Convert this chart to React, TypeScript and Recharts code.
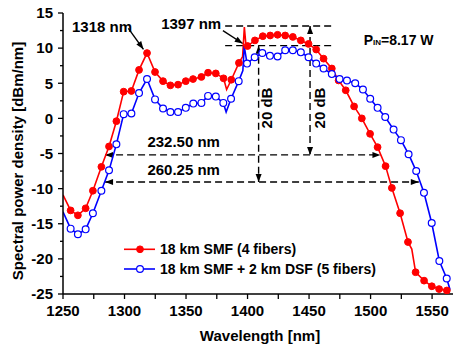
import { ComposedChart, Line, XAxis, YAxis, ReferenceLine, ReferenceDot } from 'recharts'

// 18 km SMF (4 fibers): measured points carrying a marker
const redMarkerNm = [
  1256.2, 1262.1, 1268.4, 1274.3, 1281.2, 1287.4, 1293.4, 1299.3, 1305.6, 1311.8,
  1318.3, 1324.8, 1331.3, 1337.3, 1343.5, 1349.8, 1355.7, 1362.5, 1367.9, 1374.2,
  1380.5, 1386.8, 1393.0, 1400.0, 1406.0, 1412.4, 1418.4, 1424.4, 1430.6, 1436.8,
  1443.3, 1449.6, 1455.8, 1461.8, 1468.5, 1474.0, 1479.8, 1486.6, 1492.9, 1499.6,
  1505.7, 1512.2, 1517.3, 1524.0, 1530.4, 1536.6, 1543.5, 1549.8, 1555.7, 1562.0,
]
const redMarkerDb = [
  -13.1, -13.8, -12.8, -10.3, -6.9, -4.0, -0.4, 3.8, 3.9, 6.9,
  9.3, 6.6, 5.3, 4.7, 4.8, 5.3, 5.6, 5.9, 6.5, 6.4,
  5.7, 5.5, 7.9, 10.3, 11.1, 11.7, 11.8, 11.9, 11.8, 11.6,
  11.1, 10.6, 9.8, 8.5, 7.1, 5.4, 4.0, 1.7, 0.0, -2.2,
  -4.1, -6.8, -9.9, -13.5, -17.6, -21.9, -23.1, -23.9, -24.3, -24.5,
]
// line-only points of the red trace (edges, dip and the 1397 nm spike)
const redExtraNm = [1250, 1383.0, 1396.0, 1397.4, 1398.6, 1533.5, 1564.5]
const redExtraDb = [-10.9, 4.1, 8.8, 13.0, 10.6, -18.6, -24.6]

// 18 km SMF + 2 km DSF (5 fibers)
const blueMarkerNm = [
  1256.2, 1262.1, 1268.4, 1274.3, 1281.2, 1287.4, 1293.4, 1299.3, 1305.6, 1311.8,
  1318.3, 1324.8, 1331.3, 1337.3, 1343.5, 1349.8, 1355.9, 1362.5, 1367.9, 1374.2,
  1380.3, 1386.6, 1392.8, 1399.6, 1405.8, 1412.0, 1418.2, 1424.4, 1430.6, 1436.8,
  1443.3, 1449.6, 1455.8, 1461.8, 1468.5, 1474.8, 1480.8, 1487.5, 1493.8, 1499.7,
  1505.7, 1511.9, 1518.7, 1524.7, 1530.9, 1537.1, 1543.4, 1549.7, 1555.9, 1561.9,
]
const blueMarkerDb = [
  -15.7, -16.5, -15.8, -13.5, -10.3, -7.4, -3.7, 0.6, 0.7, 3.6,
  5.6, 2.7, 1.4, 0.9, 0.9, 1.5, 2.1, 2.2, 3.2, 3.1,
  2.2, 2.8, 5.3, 7.8, 8.7, 9.3, 8.9, 8.8, 9.7, 9.7,
  9.4, 8.7, 7.8, 7.1, 6.3, 5.6, 5.4, 5.0, 4.1, 2.8,
  1.5, 0.2, -1.6, -3.1, -5.1, -7.5, -10.6, -14.9, -20.3, -22.8,
]
const blueExtraNm = [1250, 1382.6, 1396.2, 1397.3, 1564.6]
const blueExtraDb = [-13.3, 0.9, 6.8, 10.3, -24.4]

const xTicks = [1250, 1275, 1300, 1325, 1350, 1375, 1400, 1425, 1450, 1475, 1500, 1525, 1550]
const yTicks = [-25, -22.5, -20, -17.5, -15, -12.5, -10, -7.5, -5, -2.5, 0, 2.5, 5, 7.5, 10, 12.5, 15]

// annotation arrows: [nm1, dB1, nm2, dB2], heads at start / end, dashed
const arrows = [
  { p: [1381.8, 13.15, 1469.7, 13.15], a: false, b: false, dash: true },
  { p: [1381.8, 10.35, 1469.7, 10.35], a: false, b: false, dash: true },
  { p: [1409.0, 10.35, 1409.0, -9.06], a: true, b: true, dash: true },
  { p: [1450.8, 13.15, 1450.8, -5.2], a: true, b: true, dash: true },
  { p: [1284.2, -5.2, 1508.0, -5.2], a: true, b: true, dash: true },
  { p: [1284.2, -9.06, 1539.2, -9.06], a: true, b: true, dash: true },
  { p: [1303.1, 12.82, 1315.4, 9.83], a: false, b: true, dash: false },
  { p: [1380.0, 12.48, 1396.1, 10.66], a: false, b: true, dash: false },
]

const labels = [
  { x: 1281.7, y: 12.34, text: '1318 nm', rot: false },
  { x: 1354.2, y: 12.68, text: '1397 nm', rot: false },
  { x: 1348.1, y: -4.12, text: '232.50 nm', rot: false },
  { x: 1348.1, y: -8.06, text: '260.25 nm', rot: false },
  { x: 1415.2, y: 1.48, text: '20 dB', rot: true },
  { x: 1458.8, y: 1.48, text: '20 dB', rot: true },
]

const RED = '#ff0000'
const BLUE = '#0000ff'
const FONT = '"Liberation Sans", Arial, sans-serif'

const toPoints = (nm: number[], db: number[]) => nm.map((v, i) => ({ nm: v, db: db[i] }))
const byNm = (a: { nm: number }, b: { nm: number }) => a.nm - b.nm

const redMarkers = toPoints(redMarkerNm, redMarkerDb)
const redLine = [...redMarkers, ...toPoints(redExtraNm, redExtraDb)].sort(byNm)
const blueMarkers = toPoints(blueMarkerNm, blueMarkerDb)
const blueLine = [...blueMarkers, ...toPoints(blueExtraNm, blueExtraDb)].sort(byNm)

function head(x: number, y: number, fx: number, fy: number) {
  const dx = x - fx
  const dy = y - fy
  const len = Math.hypot(dx, dy) || 1
  const ux = dx / len
  const uy = dy / len
  const bx = x - ux * 8
  const by = y - uy * 8
  return `${x},${y} ${bx - uy * 3},${by + ux * 3} ${bx + uy * 3},${by - ux * 3}`
}

function ArrowLine(props: any) {
  const { x1, y1, x2, y2, a, b, dash } = props
  return (
    <g>
      <line x1={x1} y1={y1} x2={x2} y2={y2} stroke="#000" strokeWidth={1.4}
        strokeDasharray={dash ? '7 4' : undefined} />
      {a && <polygon points={head(x1, y1, x2, y2)} fill="#000" />}
      {b && <polygon points={head(x2, y2, x1, y1)} fill="#000" />}
    </g>
  )
}

const textStyle = { fontFamily: FONT, fontWeight: 700, fontSize: 15, fill: '#000' }

function BottomTick(props: any) {
  const { x, y, payload } = props
  const major = payload.value % 50 === 0
  return (
    <g>
      <line x1={x} y1={y} x2={x} y2={y + 5} stroke="#000" strokeWidth={1.3} />
      {major && <text x={x} y={y + 21.5} textAnchor="middle" {...textStyle}>{payload.value}</text>}
    </g>
  )
}

function TopTick(props: any) {
  const { x, y } = props
  return <line x1={x} y1={y} x2={x} y2={y + 4} stroke="#000" strokeWidth={1.3} />
}

function LeftTick(props: any) {
  const { x, y, payload } = props
  const major = payload.value % 5 === 0
  return (
    <g>
      <line x1={x - (major ? 5 : 3)} y1={y} x2={x} y2={y} stroke="#000" strokeWidth={1.3} />
      {major && <text x={x - 10} y={y + 5.3} textAnchor="end" {...textStyle}>{payload.value}</text>}
    </g>
  )
}

function RightTick(props: any) {
  const { x, y } = props
  return <line x1={x - 4} y1={y} x2={x} y2={y} stroke="#000" strokeWidth={1.3} />
}

export default function App() {
  return (
    <div style={{ position: 'absolute', left: 0, top: 0, width: 454, height: 349, background: '#fff' }}>
      <ComposedChart width={454} height={349} margin={{ top: 13, right: 1, bottom: 25, left: 8 }}>
        <XAxis xAxisId="b" type="number" dataKey="nm" domain={[1250, 1567]} allowDataOverflow
          ticks={xTicks} interval={0} tickSize={0} tickMargin={0} height={30} tick={<BottomTick />}
          axisLine={{ stroke: '#000', strokeWidth: 1.5 }}
          label={{
            content: (p: any) => (
              <text x={p.viewBox.x + p.viewBox.width / 2 + 2} y={341} textAnchor="middle" {...textStyle}>
                Wavelength [nm]
              </text>
            ),
          }} />
        <XAxis xAxisId="t" orientation="top" type="number" dataKey="nm" domain={[1250, 1567]} allowDataOverflow
          ticks={xTicks} interval={0} tickSize={0} tickMargin={0} height={0} tick={<TopTick />}
          axisLine={{ stroke: '#000', strokeWidth: 1.5 }} />
        <YAxis yAxisId="l" type="number" dataKey="db" domain={[-25, 15]} allowDataOverflow
          ticks={yTicks} interval={0} tickSize={0} tickMargin={0} width={55} tick={<LeftTick />}
          axisLine={{ stroke: '#000', strokeWidth: 1.5 }}
          label={{
            content: () => (
              <text x={17} y={161} transform="rotate(-90, 17, 161)" textAnchor="middle"
                dominantBaseline="central" {...textStyle}>
                Spectral power density [dBm/nm]
              </text>
            ),
          }} />
        <YAxis yAxisId="r" orientation="right" type="number" dataKey="db" domain={[-25, 15]} allowDataOverflow
          ticks={yTicks} interval={0} tickSize={0} tickMargin={0} width={0} tick={<RightTick />}
          axisLine={{ stroke: '#000', strokeWidth: 1.5 }} />

        {arrows.map((r, i) => (
          <ReferenceLine key={'a' + i} xAxisId="b" yAxisId="l" ifOverflow="visible"
            segment={[{ x: r.p[0], y: r.p[1] }, { x: r.p[2], y: r.p[3] }]}
            shape={(p: any) => <ArrowLine {...p} a={r.a} b={r.b} dash={r.dash} />} />
        ))}

        <Line xAxisId="b" yAxisId="l" data={redLine} dataKey="db" stroke={RED} strokeWidth={1.6}
          dot={false} isAnimationActive={false} />
        <Line xAxisId="b" yAxisId="l" data={redMarkers} dataKey="db" stroke="none"
          dot={{ r: 3.4, fill: RED, stroke: RED, strokeWidth: 1 }} isAnimationActive={false} />
        <Line xAxisId="b" yAxisId="l" data={blueLine} dataKey="db" stroke={BLUE} strokeWidth={1.6}
          dot={false} isAnimationActive={false} />
        <Line xAxisId="b" yAxisId="l" data={blueMarkers} dataKey="db" stroke="none"
          dot={{ r: 3.4, fill: '#fff', stroke: BLUE, strokeWidth: 1.2 }} isAnimationActive={false} />

        {labels.map((l, i) => (
          <ReferenceDot key={'l' + i} xAxisId="b" yAxisId="l" x={l.x} y={l.y} ifOverflow="visible"
            shape={(p: any) =>
              l.rot ? (
                <text x={p.cx} y={p.cy} transform={`rotate(-90, ${p.cx}, ${p.cy})`} textAnchor="middle"
                  dominantBaseline="central" {...textStyle}>{l.text}</text>
              ) : (
                <text x={p.cx} y={p.cy} textAnchor="middle" {...textStyle}>{l.text}</text>
              )
            } />
        ))}
        <ReferenceDot xAxisId="b" yAxisId="l" x={1494.4} y={10.44} ifOverflow="visible"
          shape={(p: any) => (
            <text x={p.cx} y={p.cy} {...textStyle} fontSize={14}>
              P<tspan fontSize={8}>IN</tspan>=8.17 W
            </text>
          )} />
      </ComposedChart>

      <svg width={270} height={44} style={{ position: 'absolute', left: 120, top: 238 }}>
        <line x1={4} y1={11.3} x2={35} y2={11.3} stroke={RED} strokeWidth={1.6} />
        <circle cx={20} cy={11.3} r={3.4} fill={RED} stroke={RED} />
        <text x={40} y={16.3} {...textStyle} fontSize={14}>18 km SMF (4 fibers)</text>
        <line x1={4} y1={31} x2={35} y2={31} stroke={BLUE} strokeWidth={1.6} />
        <circle cx={20} cy={31} r={3.4} fill="#fff" stroke={BLUE} strokeWidth={1.2} />
        <text x={40} y={36} {...textStyle} fontSize={14}>18 km SMF + 2 km DSF (5 fibers)</text>
      </svg>
    </div>
  )
}
